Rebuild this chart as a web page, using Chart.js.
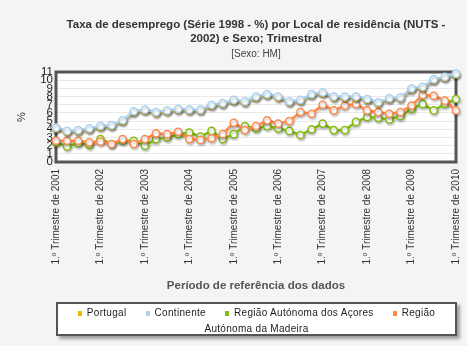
<!DOCTYPE html>
<html>
<head>
<meta charset="utf-8">
<script src="https://cdn.jsdelivr.net/npm/chart.js@4.4.1/dist/chart.umd.min.js"></script>
<style>
  html, body { margin: 0; padding: 0; background: #f4f4f4; }
  #wrap { position: relative; width: 467px; height: 346px; overflow: hidden; }
  #c { position: absolute; left: 0; top: 0; }
  #legend {
    position: absolute; left: 56px; top: 302px; width: 401px; height: 34px;
    background: #fff; border: 2px solid #555; box-shadow: 3px 3px 3px rgba(0,0,0,0.35);
    font-family: "Liberation Sans", Arial, sans-serif; font-size: 10px; letter-spacing: 0.3px;
    color: #222; text-align: center; line-height: 15.5px; padding: 1px 16px 0 16px; box-sizing: border-box;
  }
  #legend .mk { display: inline-block; width: 4px; height: 5px; margin-right: 5px; vertical-align: 0px; }
  #legend .it { margin-right: 16px; }
  #legend .it:last-child { margin-right: 0; }
</style>
</head>
<body>
<div id="wrap">
  <canvas id="c" width="467" height="346"></canvas>
  <div id="legend"></div>
</div>
<script>
// ---- data ----
const years = [2001, 2002, 2003, 2004, 2005, 2006, 2007, 2008, 2009, 2010];
const quarterPrefix = ["1.º", "2.º", "3.º", "4.º"];
const seriesNames = ["Portugal", "Continente", "Região Autónoma dos Açores", "Região Autónoma da Madeira"];
const seriesColors = ["#f5b800", "#a9d3f2", "#86bb10", "#ff8a4c"];

const portugal   = [4.1,3.7,3.8,4.0,4.3,4.4,5.0,6.1,6.3,6.0,6.2,6.4,6.3,6.3,6.9,7.1,7.5,7.3,7.9,8.2,7.9,7.3,7.5,8.2,8.4,7.9,7.9,7.9,7.6,7.2,7.7,7.8,8.9,9.1,10.0,10.3,10.7];
const continente = [4.2,3.8,3.9,4.1,4.4,4.5,5.1,6.2,6.4,6.1,6.3,6.5,6.4,6.4,7.0,7.2,7.6,7.4,8.0,8.3,8.0,7.4,7.6,8.3,8.5,8.0,8.0,8.0,7.7,7.3,7.8,7.9,9.0,9.2,10.1,10.4,10.8];
const acores     = [2.4,1.9,2.3,2.1,2.8,2.2,2.6,2.6,2.0,2.8,3.0,3.4,3.6,3.1,3.8,2.8,3.4,4.4,4.1,4.4,4.1,3.8,3.3,4.0,4.7,3.9,3.9,4.9,5.5,5.4,5.2,5.6,6.5,7.1,6.3,7.1,7.7];
const madeira    = [2.6,2.6,2.6,2.4,2.5,2.2,2.8,2.2,2.8,3.5,3.4,3.7,2.8,2.7,2.9,3.4,4.8,3.9,4.4,5.1,4.7,5.0,6.1,5.9,7.0,6.3,6.9,7.1,6.3,6.1,5.9,6.1,6.9,8.2,8.1,7.5,6.3];
const yTickMin = 0, yTickMax = 11, yTickStep = 1;

const titleLines = ["Taxa de desemprego (Série 1998 - %) por Local de residência (NUTS -", "2002) e Sexo; Trimestral"];
const subtitleText = "[Sexo: HM]";
const xTitle = "Período de referência dos dados";
const yTitle = "%";

// categories: quarters 2001 Q1 .. 2010 Q1
const categories = [];
years.forEach(y => quarterPrefix.forEach((q, i) => {
  if (y < 2010 || i === 0) categories.push(q + " Trimestre de " + y);
}));

const seriesData = [portugal, continente, acores, madeira];
const drawOrder = [2, 1, 4, 3];

const FONT = '"Liberation Sans", Arial, sans-serif';

const bgPlugin = {
  id: 'bg',
  beforeDraw(chart) {
    const {ctx, chartArea: a} = chart;
    ctx.save();
    ctx.fillStyle = '#ffffff';
    ctx.fillRect(a.left, a.top, a.right - a.left, a.bottom - a.top);
    ctx.restore();
  },
  beforeDatasetsDraw(chart) {
    const {ctx, chartArea: a} = chart;
    ctx.save();
    ctx.strokeStyle = '#555555';
    ctx.lineWidth = 3;
    ctx.strokeRect(a.left, a.top, a.right - a.left, a.bottom - a.top);
    ctx.restore();
  },
  beforeDatasetDraw(chart) {
    const ctx = chart.ctx;
    ctx.save();
    ctx.shadowColor = 'rgba(0,0,0,0.2)';
    ctx.shadowBlur = 2;
    ctx.shadowOffsetX = 1;
    ctx.shadowOffsetY = 2;
  },
  afterDatasetDraw(chart) {
    chart.ctx.restore();
  },
  afterDraw(chart) {
    const {ctx, chartArea: a} = chart;
    const cx = (a.left + a.right) / 2;
    ctx.save();
    ctx.textAlign = 'center';
    ctx.textBaseline = 'middle';
    ctx.fillStyle = '#333';
    ctx.font = 'bold 11.5px ' + FONT;
    ctx.fillText(titleLines[0], cx, 25);
    ctx.fillText(titleLines[1], cx, 38.5);
    ctx.font = '10px ' + FONT;
    ctx.fillStyle = '#444';
    ctx.fillText(subtitleText, cx, 54.5);
    ctx.restore();
  }
};

new Chart(document.getElementById('c'), {
  type: 'line',
  data: {
    labels: categories,
    datasets: seriesData.map((d, i) => ({
      label: seriesNames[i],
      data: d,
      borderColor: seriesColors[i],
      backgroundColor: '#ffffff',
      pointBackgroundColor: '#ffffff',
      pointBorderColor: seriesColors[i],
      pointBorderWidth: 1.5,
      pointRadius: 3.6,
      borderWidth: 2.5,
      tension: 0,
      fill: false,
      clip: false,
      order: drawOrder[i]
    }))
  },
  options: {
    responsive: false,
    animation: false,
    devicePixelRatio: 1,
    layout: { padding: { top: 72, right: 11, bottom: 49, left: 0 } },
    plugins: {
      legend: { display: false },
      tooltip: { enabled: false },
      title: { display: false }
    },
    scales: {
      x: {
        type: 'category',
        offset: false,
        border: { display: false },
        grid: { display: false, drawTicks: false },
        ticks: {
          autoSkip: false,
          minRotation: 90, maxRotation: 90,
          padding: 7,
          color: '#333',
          font: { family: FONT, size: 10 },
          callback: function(v, i) { return i % 4 === 0 ? this.getLabelForValue(v) : ''; }
        },
        title: {
          display: true, text: xTitle, color: '#555',
          font: { family: FONT, size: 11.5, weight: 'bold' },
          padding: { top: 0, bottom: 4 }
        },
        afterFit(scale) { scale.height = 135; scale.paddingRight = 0; scale.paddingLeft = 0; }
      },
      y: {
        min: yTickMin, max: yTickMax,
        border: { display: false },
        grid: { color: '#e9e9e9', lineWidth: 1, drawTicks: false },
        ticks: {
          stepSize: yTickStep,
          autoSkip: false,
          padding: 3,
          color: '#222',
          font: { family: FONT, size: 11.5 }
        },
        title: {
          display: true, text: yTitle, color: '#333',
          font: { family: FONT, size: 11 },
          padding: { top: 15, bottom: 0 }
        },
        afterFit(scale) { scale.width = 56; }
      }
    }
  },
  plugins: [bgPlugin]
});

// HTML legend built from series arrays
const lg = document.getElementById('legend');
seriesNames.forEach((n, i) => {
  const it = document.createElement('span');
  it.className = 'it';
  const mk = document.createElement('span');
  mk.className = 'mk';
  mk.style.background = seriesColors[i];
  it.appendChild(mk);
  it.appendChild(document.createTextNode(n));
  lg.appendChild(it);
  lg.appendChild(document.createTextNode(' '));
});
</script>
</body>
</html>
